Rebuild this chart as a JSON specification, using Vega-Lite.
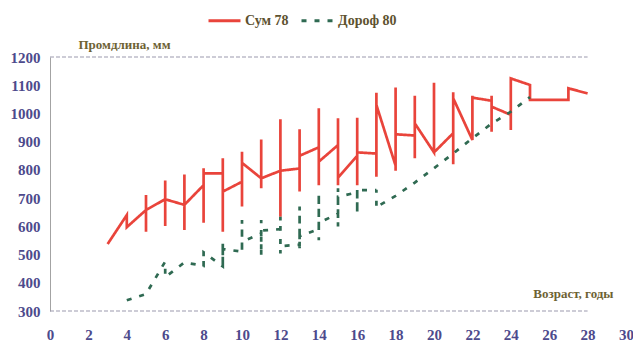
{
  "$schema": "https://vega.github.io/schema/vega-lite/v6.json",
  "width": 576,
  "height": 254,
  "autosize": "none",
  "padding": {"left": 50, "top": 57, "right": 7, "bottom": 31},
  "background": "white",
  "config": {"view": {"stroke": null}, "font": "Liberation Serif", "axis": {"labelOverlap": false, "labelFlush": false}},
  "encoding": {
    "x": {
      "field": "x", "type": "quantitative",
      "scale": {"domain": [0, 30], "nice": false, "zero": false},
      "axis": {
        "values": [0, 2, 4, 6, 8, 10, 12, 14, 16, 18, 20, 22, 24, 26, 28, 30],
        "format": "d", "labelOverlap": false, "labelFlush": false,
        "title": "Возраст, годы",
        "titleX": 563, "titleY": -14, "titleAlign": "right", "titleBaseline": "alphabetic",
        "titleFont": "Liberation Serif", "titleFontSize": 13, "titleFontWeight": "bold", "titleColor": "#6e6234",
        "labelFont": "Liberation Serif", "labelFontSize": 15, "labelFontWeight": "bold", "labelColor": "#4d4a8c",
        "labelPadding": 16, "domain": false, "ticks": false, "grid": false
      }
    },
    "y": {
      "field": "y", "type": "quantitative",
      "scale": {"domain": [300, 1200], "nice": false, "zero": false},
      "axis": {
        "values": [300, 400, 500, 600, 700, 800, 900, 1000, 1100, 1200],
        "format": "d", "labelOverlap": false, "labelFlush": false,
        "title": "Промдлина, мм",
        "titleAngle": 0, "titleAlign": "left", "titleX": 28, "titleY": -9, "titleBaseline": "alphabetic",
        "titleFont": "Liberation Serif", "titleFontSize": 13, "titleFontWeight": "bold", "titleColor": "#6e6234",
        "labelFont": "Liberation Serif", "labelFontSize": 15, "labelFontWeight": "bold", "labelColor": "#4d4a8c",
        "labelPadding": 10, "ticks": false, "grid": false, "domainColor": "#a3a3a3", "domainWidth": 1
      }
    }
  },
  "layer": [
    {
      "data": {
        "values": [
          {"s": "Сум 78", "o": 1, "x": 3, "y": 537},
          {"s": "Сум 78", "o": 2, "x": 4, "y": 640},
          {"s": "Сум 78", "o": 3, "x": 4, "y": 597},
          {"s": "Сум 78", "o": 4, "x": 5, "y": 658},
          {"s": "Сум 78", "o": 5, "x": 5, "y": 711},
          {"s": "Сум 78", "o": 6, "x": 5, "y": 581},
          {"s": "Сум 78", "o": 7, "x": 5, "y": 658},
          {"s": "Сум 78", "o": 8, "x": 6, "y": 696},
          {"s": "Сум 78", "o": 9, "x": 6, "y": 762},
          {"s": "Сум 78", "o": 10, "x": 6, "y": 601},
          {"s": "Сум 78", "o": 11, "x": 6, "y": 696},
          {"s": "Сум 78", "o": 12, "x": 7, "y": 676},
          {"s": "Сум 78", "o": 13, "x": 7, "y": 784},
          {"s": "Сум 78", "o": 14, "x": 7, "y": 587},
          {"s": "Сум 78", "o": 15, "x": 7, "y": 676},
          {"s": "Сум 78", "o": 16, "x": 8, "y": 746},
          {"s": "Сум 78", "o": 17, "x": 8, "y": 806},
          {"s": "Сум 78", "o": 18, "x": 8, "y": 613},
          {"s": "Сум 78", "o": 19, "x": 8, "y": 788},
          {"s": "Сум 78", "o": 20, "x": 9, "y": 788},
          {"s": "Сум 78", "o": 21, "x": 9, "y": 841},
          {"s": "Сум 78", "o": 22, "x": 9, "y": 581},
          {"s": "Сум 78", "o": 23, "x": 9, "y": 723},
          {"s": "Сум 78", "o": 24, "x": 10, "y": 758},
          {"s": "Сум 78", "o": 25, "x": 10, "y": 864},
          {"s": "Сум 78", "o": 26, "x": 10, "y": 670},
          {"s": "Сум 78", "o": 27, "x": 10, "y": 825},
          {"s": "Сум 78", "o": 28, "x": 11, "y": 770},
          {"s": "Сум 78", "o": 29, "x": 11, "y": 908},
          {"s": "Сум 78", "o": 30, "x": 11, "y": 735},
          {"s": "Сум 78", "o": 31, "x": 11, "y": 770},
          {"s": "Сум 78", "o": 32, "x": 12, "y": 797},
          {"s": "Сум 78", "o": 33, "x": 12, "y": 979},
          {"s": "Сум 78", "o": 34, "x": 12, "y": 634},
          {"s": "Сум 78", "o": 35, "x": 12, "y": 797},
          {"s": "Сум 78", "o": 36, "x": 13, "y": 805},
          {"s": "Сум 78", "o": 37, "x": 13, "y": 944},
          {"s": "Сум 78", "o": 38, "x": 13, "y": 723},
          {"s": "Сум 78", "o": 39, "x": 13, "y": 850},
          {"s": "Сум 78", "o": 40, "x": 14, "y": 880},
          {"s": "Сум 78", "o": 41, "x": 14, "y": 1018},
          {"s": "Сум 78", "o": 42, "x": 14, "y": 746},
          {"s": "Сум 78", "o": 43, "x": 14, "y": 829},
          {"s": "Сум 78", "o": 44, "x": 15, "y": 888},
          {"s": "Сум 78", "o": 45, "x": 15, "y": 983},
          {"s": "Сум 78", "o": 46, "x": 15, "y": 746},
          {"s": "Сум 78", "o": 47, "x": 15, "y": 772},
          {"s": "Сум 78", "o": 48, "x": 16, "y": 850},
          {"s": "Сум 78", "o": 49, "x": 16, "y": 985},
          {"s": "Сум 78", "o": 50, "x": 16, "y": 746},
          {"s": "Сум 78", "o": 51, "x": 16, "y": 862},
          {"s": "Сум 78", "o": 52, "x": 17, "y": 858},
          {"s": "Сум 78", "o": 53, "x": 17, "y": 1073},
          {"s": "Сум 78", "o": 54, "x": 17, "y": 776},
          {"s": "Сум 78", "o": 55, "x": 17, "y": 1030},
          {"s": "Сум 78", "o": 56, "x": 18, "y": 815},
          {"s": "Сум 78", "o": 57, "x": 18, "y": 1092},
          {"s": "Сум 78", "o": 58, "x": 18, "y": 797},
          {"s": "Сум 78", "o": 59, "x": 18, "y": 926},
          {"s": "Сум 78", "o": 60, "x": 19, "y": 922},
          {"s": "Сум 78", "o": 61, "x": 19, "y": 1063},
          {"s": "Сум 78", "o": 62, "x": 19, "y": 841},
          {"s": "Сум 78", "o": 63, "x": 19, "y": 965},
          {"s": "Сум 78", "o": 64, "x": 20, "y": 862},
          {"s": "Сум 78", "o": 65, "x": 20, "y": 1109},
          {"s": "Сум 78", "o": 66, "x": 20, "y": 859},
          {"s": "Сум 78", "o": 67, "x": 20, "y": 862},
          {"s": "Сум 78", "o": 68, "x": 21, "y": 930},
          {"s": "Сум 78", "o": 69, "x": 21, "y": 1075},
          {"s": "Сум 78", "o": 70, "x": 21, "y": 820},
          {"s": "Сум 78", "o": 71, "x": 21, "y": 1054},
          {"s": "Сум 78", "o": 72, "x": 22, "y": 906},
          {"s": "Сум 78", "o": 73, "x": 22, "y": 1063},
          {"s": "Сум 78", "o": 74, "x": 22, "y": 906},
          {"s": "Сум 78", "o": 75, "x": 22, "y": 1056},
          {"s": "Сум 78", "o": 76, "x": 23, "y": 1045},
          {"s": "Сум 78", "o": 77, "x": 23, "y": 1063},
          {"s": "Сум 78", "o": 78, "x": 23, "y": 935},
          {"s": "Сум 78", "o": 79, "x": 23, "y": 1024},
          {"s": "Сум 78", "o": 80, "x": 24, "y": 995},
          {"s": "Сум 78", "o": 81, "x": 24, "y": 1124},
          {"s": "Сум 78", "o": 82, "x": 24, "y": 941},
          {"s": "Сум 78", "o": 83, "x": 24, "y": 1124},
          {"s": "Сум 78", "o": 84, "x": 25, "y": 1101},
          {"s": "Сум 78", "o": 85, "x": 25, "y": 1048},
          {"s": "Сум 78", "o": 86, "x": 26, "y": 1048},
          {"s": "Сум 78", "o": 87, "x": 27, "y": 1048},
          {"s": "Сум 78", "o": 88, "x": 27, "y": 1089},
          {"s": "Сум 78", "o": 89, "x": 28, "y": 1071},
          {"s": "Дороф 80", "o": 1, "x": 4, "y": 338},
          {"s": "Дороф 80", "o": 2, "x": 5, "y": 360},
          {"s": "Дороф 80", "o": 3, "x": 6, "y": 475},
          {"s": "Дороф 80", "o": 4, "x": 6, "y": 420},
          {"s": "Дороф 80", "o": 5, "x": 7, "y": 472},
          {"s": "Дороф 80", "o": 6, "x": 8, "y": 460},
          {"s": "Дороф 80", "o": 7, "x": 8, "y": 510},
          {"s": "Дороф 80", "o": 8, "x": 8, "y": 458},
          {"s": "Дороф 80", "o": 9, "x": 8, "y": 508},
          {"s": "Дороф 80", "o": 10, "x": 9, "y": 458},
          {"s": "Дороф 80", "o": 11, "x": 9, "y": 541},
          {"s": "Дороф 80", "o": 12, "x": 9, "y": 456},
          {"s": "Дороф 80", "o": 13, "x": 9, "y": 520},
          {"s": "Дороф 80", "o": 14, "x": 10, "y": 510},
          {"s": "Дороф 80", "o": 15, "x": 10, "y": 622},
          {"s": "Дороф 80", "o": 16, "x": 10, "y": 505},
          {"s": "Дороф 80", "o": 17, "x": 10, "y": 545},
          {"s": "Дороф 80", "o": 18, "x": 11, "y": 575},
          {"s": "Дороф 80", "o": 19, "x": 11, "y": 622},
          {"s": "Дороф 80", "o": 20, "x": 11, "y": 495},
          {"s": "Дороф 80", "o": 21, "x": 11, "y": 585},
          {"s": "Дороф 80", "o": 22, "x": 12, "y": 590},
          {"s": "Дороф 80", "o": 23, "x": 12, "y": 634},
          {"s": "Дороф 80", "o": 24, "x": 12, "y": 504},
          {"s": "Дороф 80", "o": 25, "x": 12, "y": 530},
          {"s": "Дороф 80", "o": 26, "x": 13, "y": 535},
          {"s": "Дороф 80", "o": 27, "x": 13, "y": 670},
          {"s": "Дороф 80", "o": 28, "x": 13, "y": 522},
          {"s": "Дороф 80", "o": 29, "x": 13, "y": 565},
          {"s": "Дороф 80", "o": 30, "x": 14, "y": 590},
          {"s": "Дороф 80", "o": 31, "x": 14, "y": 717},
          {"s": "Дороф 80", "o": 32, "x": 14, "y": 551},
          {"s": "Дороф 80", "o": 33, "x": 14, "y": 612},
          {"s": "Дороф 80", "o": 34, "x": 15, "y": 645},
          {"s": "Дороф 80", "o": 35, "x": 15, "y": 735},
          {"s": "Дороф 80", "o": 36, "x": 15, "y": 599},
          {"s": "Дороф 80", "o": 37, "x": 15, "y": 705},
          {"s": "Дороф 80", "o": 38, "x": 16, "y": 720},
          {"s": "Дороф 80", "o": 39, "x": 16, "y": 729},
          {"s": "Дороф 80", "o": 40, "x": 16, "y": 646},
          {"s": "Дороф 80", "o": 41, "x": 16, "y": 728},
          {"s": "Дороф 80", "o": 42, "x": 17, "y": 728},
          {"s": "Дороф 80", "o": 43, "x": 17, "y": 730},
          {"s": "Дороф 80", "o": 44, "x": 17, "y": 665},
          {"s": "Дороф 80", "o": 45, "x": 17, "y": 668},
          {"s": "Дороф 80", "o": 46, "x": 18, "y": 708},
          {"s": "Дороф 80", "o": 47, "x": 19, "y": 755},
          {"s": "Дороф 80", "o": 48, "x": 20, "y": 806},
          {"s": "Дороф 80", "o": 49, "x": 21, "y": 858},
          {"s": "Дороф 80", "o": 50, "x": 22, "y": 912},
          {"s": "Дороф 80", "o": 51, "x": 23, "y": 964},
          {"s": "Дороф 80", "o": 52, "x": 24, "y": 1006},
          {"s": "Дороф 80", "o": 53, "x": 25, "y": 1058}
        ]
      },
      "mark": {"type": "line", "strokeWidth": 2.7, "strokeJoin": "miter", "strokeCap": "butt"},
      "encoding": {
        "color": {
          "field": "s", "type": "nominal",
          "scale": {"domain": ["Сум 78", "Дороф 80"], "range": ["#e9443b", "#2f6a52"]},
          "legend": {
            "title": null, "orient": "none", "legendX": 157, "legendY": -54, "direction": "horizontal",
            "symbolType": "stroke", "symbolSize": 1024, "symbolStrokeWidth": 3,
            "labelFont": "Liberation Serif", "labelFontSize": 14, "labelFontWeight": "bold", "labelColor": "#5e5230",
            "labelOffset": 3, "columnPadding": 6
          }
        },
        "strokeDash": {
          "field": "s", "type": "nominal",
          "scale": {"domain": ["Сум 78", "Дороф 80"], "range": [[1, 0], [5, 8]]},
          "legend": {
            "title": null, "orient": "none", "legendX": 157, "legendY": -54, "direction": "horizontal",
            "symbolType": "stroke", "symbolSize": 1024, "symbolStrokeWidth": 3,
            "labelFont": "Liberation Serif", "labelFontSize": 14, "labelFontWeight": "bold", "labelColor": "#5e5230",
            "labelOffset": 3, "columnPadding": 6
          }
        },
        "order": {"field": "o", "type": "quantitative"}
      }
    },
    {
      "data": {"values": [{"y": 1200, "x": 0, "x2": 28}, {"y": 300, "x": 0, "x2": 28}]},
      "mark": {"type": "rule", "color": "#9b99ad", "strokeDash": [4, 2], "strokeWidth": 1},
      "encoding": {
        "x2": {"field": "x2"}
      }
    }
  ]
}
